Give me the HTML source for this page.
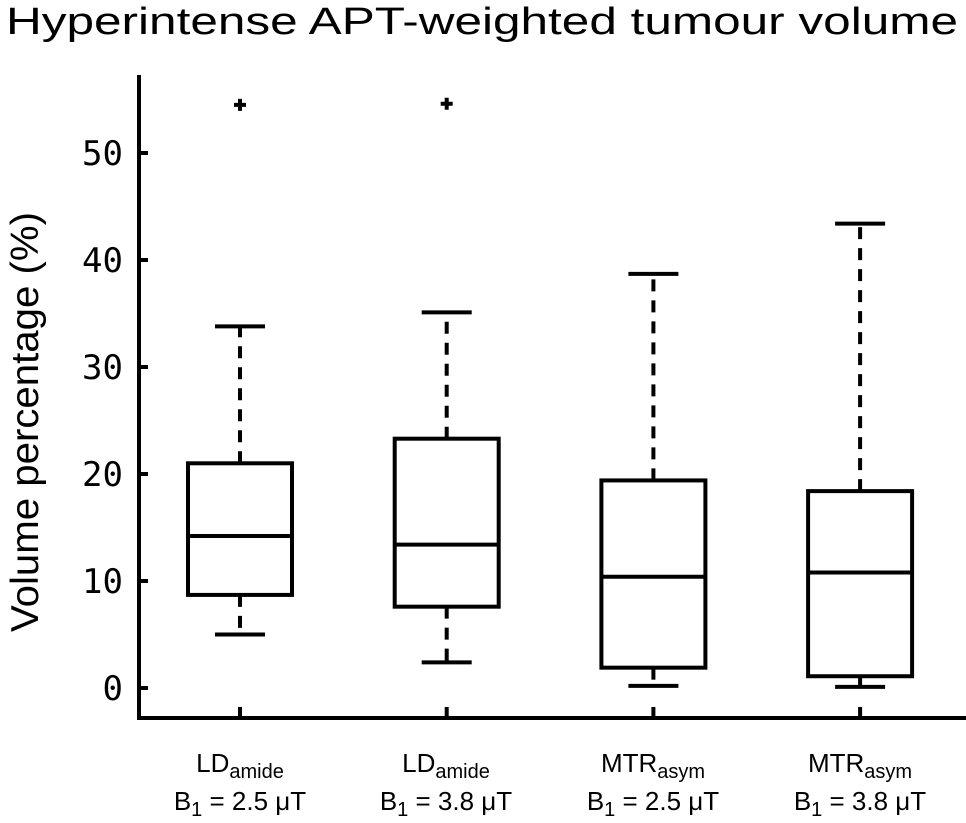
<!DOCTYPE html>
<html><head><meta charset="utf-8"><style>
body{margin:0;background:#fff}
svg text{fill:#000}
</style></head><body>
<svg width="966" height="818" xmlns="http://www.w3.org/2000/svg">
<text x="6" y="34" textLength="952" lengthAdjust="spacingAndGlyphs" font-family="Liberation Sans, sans-serif" font-size="38">Hyperintense APT-weighted tumour volume</text>
<text transform="translate(38,422) rotate(-90)" text-anchor="middle" textLength="420" lengthAdjust="spacingAndGlyphs" font-family="Liberation Sans, sans-serif" font-size="39">Volume percentage (%)</text>
<g id="axes"></g>
<g id="boxes"></g>
<g font-family="Liberation Sans, sans-serif" font-size="26" text-anchor="middle">
<text x="240" y="772">LD<tspan font-size="20" dy="6">amide</tspan></text>
<text x="240" y="810">B<tspan font-size="20" dy="6">1</tspan><tspan dy="-6"> = 2.5 μT</tspan></text>
<text x="446" y="772">LD<tspan font-size="20" dy="6">amide</tspan></text>
<text x="446" y="810">B<tspan font-size="20" dy="6">1</tspan><tspan dy="-6"> = 3.8 μT</tspan></text>
<text x="653" y="772">MTR<tspan font-size="20" dy="6">asym</tspan></text>
<text x="653" y="810">B<tspan font-size="20" dy="6">1</tspan><tspan dy="-6"> = 2.5 μT</tspan></text>
<text x="860" y="772">MTR<tspan font-size="20" dy="6">asym</tspan></text>
<text x="860" y="810">B<tspan font-size="20" dy="6">1</tspan><tspan dy="-6"> = 3.8 μT</tspan></text>
</g>
</svg>
<script>
const categories=["LDamide 2.5","LDamide 3.8","MTRasym 2.5","MTRasym 3.8"];
const whiskerLow=[5,2.4,0.2,0.1];
const q1=[8.7,7.6,1.9,1.1];
const median=[14.2,13.4,10.4,10.8];
const q3=[21,23.3,19.4,18.4];
const whiskerHigh=[33.8,35.1,38.7,43.4];
const outliers=[[54.5],[54.6],[],[]];
const yTicks=[0,10,20,30,40,50];
const NS="http://www.w3.org/2000/svg";
function y(v){return 688-v*10.7;}
function x(i){return 240+i*206.7;}
function mk(tag,attrs,parent){const e=document.createElementNS(NS,tag);for(const k in attrs)e.setAttribute(k,attrs[k]);parent.appendChild(e);return e;}
const ax=document.getElementById('axes');
let e=mk('path',{d:'M139 75 V718 H966',fill:'none',stroke:'#000','stroke-width':4},ax);


yTicks.forEach(t=>{
 let l=mk('line',{x1:139,x2:148,y1:y(t),y2:y(t),stroke:'#000','stroke-width':4},ax);
 
 
 let tx=mk('text',{x:123,y:y(t)+12,'text-anchor':'end','font-family':'DejaVu Sans Mono, monospace','font-size':34},ax);
 tx.textContent=t;
 
 
});
const bx=document.getElementById('boxes');
categories.forEach((c,i)=>{
 const cx=x(i);
 let g=mk('g',{stroke:'#000','stroke-width':4,fill:'none'},bx);
 
 
 let xt=mk('line',{x1:cx,x2:cx,y1:718,y2:707},g);
 
 
 let r=mk('rect',{x:cx-52,y:y(q3[i]),width:104,height:y(q1[i])-y(q3[i])},g);
 
 
 let m=mk('line',{x1:cx-52,x2:cx+52,y1:y(median[i]),y2:y(median[i])},g);
 
 
 let w1=mk('line',{x1:cx,x2:cx,y1:y(q3[i]),y2:y(whiskerHigh[i]),'stroke-dasharray':'12 9'},g);
 
 
 let w2=mk('line',{x1:cx,x2:cx,y1:y(q1[i]),y2:y(whiskerLow[i]),'stroke-dasharray':'12 9'},g);
 
 
 let c1=mk('line',{x1:cx-25,x2:cx+25,y1:y(whiskerHigh[i]),y2:y(whiskerHigh[i])},g);
 
 
 let c2=mk('line',{x1:cx-25,x2:cx+25,y1:y(whiskerLow[i]),y2:y(whiskerLow[i])},g);
 
 
 outliers[i].forEach(o=>{
  let p=mk('path',{d:`M${cx-6} ${y(o)} H${cx+6} M${cx} ${y(o)-6} V${y(o)+6}`},g);
  
  
 });
});
</script>
</body></html>
